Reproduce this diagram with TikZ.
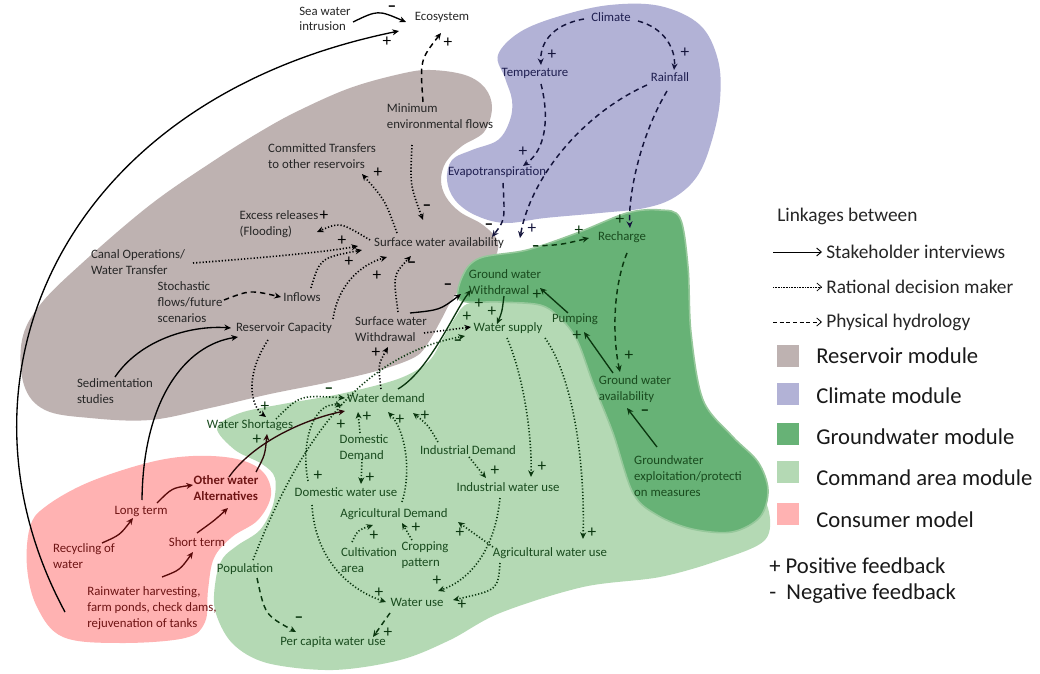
\documentclass[tikz,border=0pt]{standalone}
\usepackage{fontspec}
\setmainfont{Carlito}
\usetikzlibrary{arrows.meta,calc}
\definecolor{resC}{RGB}{190,178,177}
\definecolor{cliC}{RGB}{178,178,214}
\definecolor{gwC}{RGB}{103,178,118}
\definecolor{gwE}{RGB}{150,200,155}
\definecolor{cmdC}{RGB}{180,217,180}
\definecolor{conC}{RGB}{255,178,178}
\definecolor{txB}{RGB}{38,38,38}
\definecolor{txC}{RGB}{30,30,80}
\definecolor{txG}{RGB}{25,75,30}
\definecolor{txP}{RGB}{110,20,20}
\definecolor{arB}{RGB}{0,0,0}
\definecolor{arG}{RGB}{10,55,15}
\definecolor{arC}{RGB}{20,20,60}
\definecolor{arP}{RGB}{90,10,10}
\definecolor{arD}{RGB}{45,10,10}
\newcommand\dgfont{\fontsize{9.6}{11.8}\selectfont}
\newcommand\pmfont{\fontsize{13}{13}\selectfont}
\newcommand\mns{\textbf{–}}
\tikzset{
  basenode/.style={font=\dgfont, inner sep=1pt, align=left},
  resnode/.style={basenode, text=txB},
  clinode/.style={basenode, text=txC},
  grnode/.style={basenode, text=txG},
  connode/.style={basenode, text=txP},
  tipA/.style={-{Stealth[length=5pt,width=4.5pt]}},
  solidarr/.style={tipA, line width=1pt},
  dotarr/.style={tipA, line width=1.2pt, dash pattern=on 0.9pt off 1.5pt},
  dasharr/.style={tipA, line width=1.1pt, dash pattern=on 4pt off 3pt},
  pm/.style={font=\pmfont, inner sep=0pt},
  legtxt/.style={font=\fontsize{14.5}{16}\selectfont, anchor=west, inner sep=0pt, text=black!85},
  legbig/.style={font=\fontsize{17}{19}\selectfont, anchor=west, inner sep=0pt, text=black!90},
  legsq/.style={minimum size=17pt, inner sep=0pt, draw=none},
  legtip/.style={-{Straight Barb[length=3.5pt,width=6pt]}, line width=0.7pt}
}
\begin{document}
\begin{tikzpicture}[x=0.75pt,y=-0.75pt]
\useasboundingbox (0,0) rectangle (1040,674);
\fill[white] (0,0) rectangle (1040,674);

% ---- module blobs ----
\fill[resC] plot[smooth cycle, tension=0.6] coordinates {(263,130) (300,110) (350,88) (400,74) (430,70) (465,75) (485,88) (492,108) (484,132) (462,146) (446,162) (441,180) (446,197) (460,212) (483,225) (498,242) (492,262) (470,278) (452,300) (440,322) (428,343) (415,357) (380,370) (330,382) (270,394) (210,408) (150,420) (90,418) (45,410) (24,385) (22,340) (40,305) (80,265) (150,205) (215,160)};
\fill[cliC] plot[smooth cycle, tension=0.6] coordinates {(498,55) (520,32) (560,16) (610,5) (660,6) (700,25) (718,60) (720,100) (712,140) (698,175) (675,197) (645,208) (600,213) (545,218) (505,223) (475,215) (455,200) (447,180) (452,160) (472,150) (498,140) (510,120) (512,100) (505,78)};
\fill[cmdC] plot[smooth cycle, tension=0.55] coordinates {(217,428) (240,413) (283,404) (340,394) (398,379) (428,362) (442,340) (455,318) (470,303) (520,300) (640,300) (685,380) (712,440) (748,478) (768,508) (765,540) (720,560) (660,577) (583,587) (500,613) (450,640) (400,660) (333,670) (267,663) (232,643) (215,610) (216,578) (223,558) (238,545) (260,530) (273,505) (275,478) (262,464) (235,450)};
\filldraw[fill=gwC, draw=gwE, line width=1.2pt] plot[smooth cycle, tension=0.55] coordinates {(460,300) (463,275) (480,258) (527,250) (577,233) (627,213) (660,210) (680,218) (688,267) (691,333) (703,400) (732,436) (758,462) (768,490) (760,517) (732,532) (692,529) (657,515) (633,493) (613,433) (593,383) (577,340) (560,318) (540,305) (500,302)};
\fill[conC] plot[smooth cycle, tension=0.6] coordinates {(30,527) (45,507) (87,483) (147,463) (193,456) (237,459) (263,472) (271,495) (258,520) (232,537) (214,558) (208,590) (205,622) (185,638) (120,643) (63,637) (37,607) (27,567)};

% ---- nodes ----
\node[resnode] (sea) at (325,19) {Sea water\\intrusion};
\node[resnode] (eco) at (442,17) {Ecosystem};
\node[resnode] (minflow) at (440,116) {Minimum\\environmental flows};
\node[resnode] (commit) at (322,156) {Committed Transfers\\to other reservoirs};
\node[resnode] (excess) at (279,224) {Excess releases\\(Flooding)};
\node[resnode] (canal) at (138,262) {Canal Operations/\\Water Transfer};
\node[resnode] (stoch) at (190,302) {Stochastic\\flows/future\\scenarios};
\node[resnode] (inflows) at (302,297) {Inflows};
\node[resnode] (rescap) at (284,328) {Reservoir Capacity};
\node[resnode] (sedim) at (115,391) {Sedimentation\\studies};
\node[resnode] (swa) at (439,243) {Surface water availability};
\node[resnode] (sww) at (391,329) {Surface water\\Withdrawal};
\node[clinode] (climate) at (611,17) {Climate};
\node[clinode] (temp) at (535,73) {Temperature};
\node[clinode] (rain) at (670,77) {Rainfall};
\node[clinode] (evap) at (497,172) {Evapotranspiration};
\node[grnode] (recharge) at (622,237) {Recharge};
\node[grnode] (gww) at (505,282) {Ground water\\Withdrawal};
\node[grnode] (wsup) at (508,328) {Water supply};
\node[grnode] (pump) at (575,319) {Pumping};
\node[grnode] (gwa) at (635,389) {Ground water\\availability};
\node[grnode] (gwexp) at (688,476) {Groundwater\\exploitation/protecti\\on measures};
\node[grnode] (wdem) at (386,398) {Water demand};
\node[grnode] (wshort) at (250,425) {Water Shortages};
\node[grnode] (domdem) at (364,447) {Domestic\\Demand};
\node[grnode] (inddem) at (468,450) {Industrial Demand};
\node[grnode] (domuse) at (346,492) {Domestic water use};
\node[grnode] (induse) at (508,487) {Industrial water use};
\node[grnode] (agdem) at (394,514) {Agricultural Demand};
\node[grnode] (cult) at (369,560) {Cultivation\\area};
\node[grnode] (cropp) at (425,555) {Cropping\\pattern};
\node[grnode] (aguse) at (550,553) {Agricultural water use};
\node[grnode] (wuse) at (417,602) {Water use};
\node[grnode] (pop) at (245,569) {Population};
\node[grnode] (percap) at (333,642) {Per capita water use};
\node[connode, font=\dgfont\bfseries] (otheralt) at (226,488) {Other water\\Alternatives};
\node[connode] (longt) at (141,511) {Long term};
\node[connode] (shortt) at (197,542) {Short term};
\node[connode] (recyc) at (84,556) {Recycling of\\water};
\node[connode] (rainh) at (152,608) {Rainwater harvesting,\\farm ponds, check dams,\\rejuvenation of tanks};

% ---- connectors: reservoir / top ----
\draw[solidarr, arB] ($(sea)+(28,3)$) .. controls (378,10) .. ($(eco)+(-36,5)$);
\draw[solidarr, arB] ($(rainh)+(-87,4)$) .. controls (-60,380) and (60,100) .. ($(eco)+(-43,14)$);
\draw[dasharr, arB] ($(minflow)+(-17,-14)$) .. controls (420,60) .. ($(eco)+(-1,16)$);
\draw[dotarr, arB] ($(minflow)+(-28,29)$) .. controls (410,185) .. ($(swa)+(-16,-23)$);
\draw[dotarr, arB] ($(swa)+(-42,-10)$) .. controls (385,200) .. ($(commit)+(40,18)$);
\draw[dotarr, arB] ($(swa)+(-69,-3)$) .. controls (340,222) .. ($(excess)+(38,8)$);
\draw[dotarr, arB] ($(canal)+(55,1)$) .. controls (260,258) and (327,252) .. ($(swa)+(-81,3)$);
\draw[dotarr, arB] ($(inflows)+(9,-9)$) .. controls (320,258) .. ($(swa)+(-77,7)$);
\draw[dotarr, arB] ($(rescap)+(49,-9)$) .. controls (338,285) and (360,265) .. ($(swa)+(-52,14)$);
\draw[dotarr, arB] ($(sww)+(7,-17)$) .. controls (393,275) .. ($(swa)+(-28,13)$);
\draw[dasharr, arB] ($(stoch)+(34,-2)$) .. controls (250,290) .. ($(inflows)+(-21,0)$);
\draw[solidarr, arB] ($(sedim)+(0,-14)$) .. controls (140,340) and (190,325) .. ($(rescap)+(-53,0)$);
\draw[solidarr, arB] ($(longt)+(1,-11)$) .. controls (143,400) and (185,345) .. ($(rescap)+(-46,9)$);
\draw[dotarr, arB] ($(rescap)+(-16,12)$) .. controls (245,375) and (250,405) .. ($(wshort)+(16,-8)$);
\draw[solidarr, arB] ($(sww)+(19,-16)$) .. controls (440,310) .. ($(gww)+(-44,12)$);
\draw[dotarr, arB] ($(wdem)+(-5,-9)$) .. controls (378,365) .. ($(sww)+(-3,18)$);
\draw[dotarr, arB] ($(sww)+(33,4)$) -- ($(wsup)+(-37,-1)$);

% ---- climate ----
\draw[dasharr, arC] ($(climate)+(-27,2)$) .. controls (550,25) and (540,45) .. ($(temp)+(6,-8)$);
\draw[dasharr, arC] ($(climate)+(27,4)$) .. controls (665,28) and (676,50) .. ($(rain)+(4,-7)$);
\draw[dasharr, arC] ($(temp)+(6,11)$) .. controls (550,120) and (545,150) .. ($(evap)+(26,-6)$);
\draw[dasharr, arC] ($(rain)+(-23,8)$) .. controls (580,115) and (530,180) .. ($(swa)+(81,-5)$);
\draw[dasharr, arC] ($(rain)+(-3,14)$) .. controls (638,140) and (628,200) .. ($(recharge)+(8,-9)$);
\draw[dasharr, arC] ($(evap)+(6,11)$) .. controls (505,220) .. ($(swa)+(53,-6)$);
\draw[dasharr, arG] ($(swa)+(94,3)$) .. controls (560,245) .. ($(recharge)+(-33,1)$);

% ---- groundwater ----
\draw[dasharr, arG] ($(recharge)+(5,16)$) .. controls (612,290) and (613,340) .. ($(gwa)+(-15,-17)$);
\draw[solidarr, arG] ($(gwa)+(-22,-16)$) -- ($(pump)+(9,13)$);
\draw[solidarr, arG] ($(pump)+(-7,-6)$) -- ($(gww)+(35,6)$);
\draw[solidarr, arG] ($(gwexp)+(-31,-29)$) -- ($(gwa)+(-8,19)$);
\draw[solidarr, arG] ($(gww)+(-1,14)$) .. controls (502,312) .. ($(wsup)+(-11,-4)$);
\draw[solidarr, arG] ($(wdem)+(12,-9)$) .. controls (430,370) and (455,310) .. ($(gww)+(-34,8)$);

% ---- command area ----
\draw[dotarr, arG] ($(wshort)+(26,-6)$) .. controls (300,395) .. ($(wdem)+(-41,0)$);
\draw[dotarr, arG] ($(pop)+(8,-9)$) .. controls (300,440) and (360,355) .. ($(wsup)+(-43,8)$);
\draw[dotarr, arG] ($(domuse)+(-38,-11)$) .. controls (300,440) and (315,400) .. ($(wdem)+(-44,8)$);
\draw[dotarr, arG] ($(domdem)+(-4,-14)$) -- ($(wdem)+(-28,14)$);
\draw[dotarr, arG] ($(domdem)+(-2,12)$) -- ($(domuse)+(15,-8)$);
\draw[dotarr, arG] ($(agdem)+(8,-12)$) .. controls (412,470) and (405,430) .. ($(wdem)+(2,14)$);
\draw[dotarr, arG] ($(inddem)+(-30,-8)$) .. controls (428,425) .. ($(wdem)+(27,15)$);
\draw[dotarr, arG] ($(inddem)+(1,7)$) -- ($(induse)+(-22,-9)$);
\draw[dotarr, arG] ($(wsup)+(-1,10)$) .. controls (525,380) and (532,440) .. ($(induse)+(23,-10)$);
\draw[dotarr, arG] ($(wsup)+(37,10)$) .. controls (575,380) and (585,470) .. ($(aguse)+(33,-14)$);
\draw[dotarr, arG] ($(induse)+(-8,11)$) .. controls (495,550) and (470,580) .. ($(wuse)+(21,-11)$);
\draw[dotarr, arG] ($(aguse)+(-57,-6)$) -- ($(agdem)+(64,8)$);
\draw[dotarr, arG] ($(aguse)+(-50,10)$) .. controls (498,590) .. ($(wuse)+(36,-2)$);
\draw[dotarr, arG] ($(cult)+(-17,-18)$) .. controls (358,530) .. ($(agdem)+(-21,11)$);
\draw[dotarr, arG] ($(cropp)+(-13,-15)$) -- ($(agdem)+(8,9)$);
\draw[dotarr, arG] ($(domuse)+(-34,13)$) .. controls (315,560) and (350,590) .. ($(wuse)+(-31,0)$);
\draw[dasharr, arG] ($(pop)+(12,9)$) .. controls (265,615) .. ($(percap)+(-37,-10)$);
\draw[dasharr, arG] ($(wuse)+(-27,11)$) -- ($(percap)+(40,-5)$);

% ---- consumer ----
\draw[solidarr, arD] ($(otheralt)+(3,-11)$) .. controls (255,440) and (310,418) .. ($(wdem)+(-41,13)$);
\draw[solidarr, arD] ($(otheralt)+(30,-16)$) .. controls (265,455) .. ($(wshort)+(17,9)$);
\draw[solidarr, arP] ($(recyc)+(18,-13)$) .. controls (120,535) .. ($(longt)+(-8,7)$);
\draw[solidarr, arP] ($(longt)+(16,-8)$) .. controls (172,488) .. ($(otheralt)+(-33,-3)$);
\draw[solidarr, arP] ($(rainh)+(10,-31)$) .. controls (180,570) .. ($(shortt)+(-4,10)$);
\draw[solidarr, arP] ($(shortt)+(0,-9)$) .. controls (215,520) .. ($(otheralt)+(2,20)$);

% ---- feedback signs ----
\foreach \i/\x/\y/\s/\c in {
 1/392/9/\mns/arB, 2/387/42/+/arB, 3/448/43/+/arB, 4/427/208/\mns/arB, 5/378/173/+/arB,
 6/324/216/+/arB, 7/342/241/+/arB, 8/349/262/+/arB, 9/377/276/+/arB, 10/412/265/\mns/arB,
 11/376/353/+/arB, 12/448/287/\mns/arB, 13/552/55/+/arC, 14/685/53/+/arC, 15/523/152/+/arC,
 16/532/229/+/arC, 17/489/227/\mns/arB, 18/620/220/+/arG, 19/579/231/+/arG,
 20/479/304/+/arG, 21/467/317/+/arG, 22/492/312/+/arG, 23/537/295/+/arG, 24/577/336/+/arG,
 25/629/356/+/arG, 26/645/413/\mns/arG, 27/257/440/+/arG, 28/341/425/+/arG, 29/367/417/+/arG,
 30/370/478/+/arG, 31/400/420/+/arG, 32/425/416/+/arG, 33/495/471/+/arG, 34/542/467/+/arG,
 35/592/533/+/arG, 36/437/581/+/arG, 37/460/533/+/arG, 38/462/605/+/arG, 39/374/536/+/arG,
 40/416/528/+/arG, 41/379/593/+/arG, 42/299/620/\mns/arG, 43/388/633/+/arG, 44/318/476/+/arG,
 45/458/343/\mns/arG, 46/329/391/\mns/arG, 47/265/407/+/arG}
 {\node[pm, text=\c] (pm\i) at (\x,\y) {\s};}
\node[pm, text=arG, font=\fontsize{8}{8}\selectfont] (pm48) at (337,405) {+};

% ---- legend ----
\node[legtxt] (lg0) at (777,216) {Linkages between};
\coordinate (la1) at (773,252); \coordinate (lb1) at (822,252);
\coordinate (la2) at (773,287); \coordinate (lb2) at (822,287);
\coordinate (la3) at (773,322); \coordinate (lb3) at (822,322);
\draw[legtip] (la1) -- (lb1);
\draw[legtip, line width=0.5pt, dash pattern=on 0.6pt off 0.6pt] (la2) -- (lb2);
\draw[legtip, line width=0.6pt, dash pattern=on 3pt off 2pt] (la3) -- (lb3);
\node[legtxt] (lg1) at (826,252) {Stakeholder interviews};
\node[legtxt] (lg2) at (826,287) {Rational decision maker};
\node[legtxt] (lg3) at (826,322) {Physical hydrology};
\node[legsq, fill=resC] (sq1) at (788,356) {};
\node[legsq, fill=cliC] (sq2) at (788,394) {};
\node[legsq, fill=gwC] (sq3) at (788,434) {};
\node[legsq, fill=cmdC] (sq4) at (788,472) {};
\node[legsq, fill=conC] (sq5) at (788,514) {};
\node[legbig] (lm1) at (816,356) {Reservoir module};
\node[legbig] (lm2) at (816,396) {Climate module};
\node[legbig] (lm3) at (816,437) {Groundwater module};
\node[legbig] (lm4) at (816,478) {Command area module};
\node[legbig] (lm5) at (816,520) {Consumer model};
\node[legbig] (lf1) at (769,566) {+ Positive feedback};
\node[legbig] (lf2) at (769,594) {-~~Negative feedback};
\end{tikzpicture}
\end{document}
